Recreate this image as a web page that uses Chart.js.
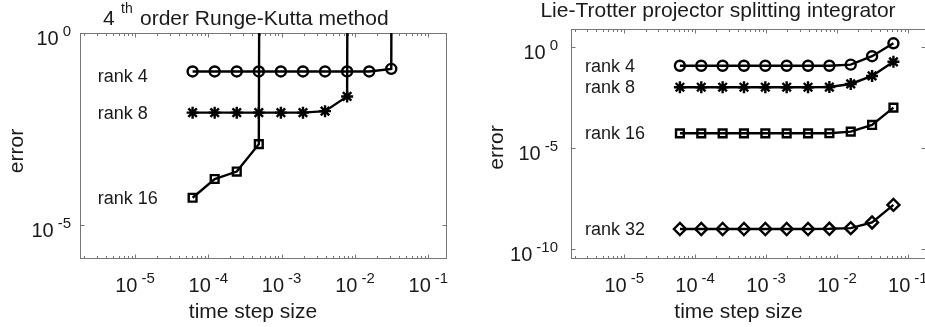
<!DOCTYPE html>
<html><head><meta charset="utf-8">
<script src="https://cdn.jsdelivr.net/npm/chart.js@4.4.1/dist/chart.umd.min.js"></script>
<style>
html,body{margin:0;padding:0;background:#fff;overflow:hidden;width:925px;height:327px;}
canvas{position:absolute;top:0;}
#c1{left:0}
#c2{left:470px}
</style></head><body>
<canvas id="c1" width="465" height="327"></canvas>
<canvas id="c2" width="465" height="327"></canvas>
<script>
// time step sizes (x)
const timeSteps = [6.1035e-5, 1.2207e-4, 2.4414e-4, 4.8828e-4, 9.7656e-4, 1.9531e-3, 3.9063e-3, 7.8125e-3, 1.5625e-2, 3.125e-2, 6.25e-2];

// 4th order Runge-Kutta errors (1e200 = blow-up / divergence)
const rk4Rank4  = [0.1, 0.1, 0.1, 0.1, 0.1, 0.1, 0.1, 0.1, 0.1, 0.117, 1e200];
const rk4Rank8  = [0.0085, 0.0085, 0.0085, 0.0085, 0.0085, 0.0085, 0.0093, 0.0224, 1e200];
const rk4Rank16 = [5.2e-5, 1.6e-4, 2.5e-4, 1.29e-3, 1e200];

// Lie-Trotter projector splitting errors
const ltRank4  = [0.115, 0.115, 0.115, 0.115, 0.115, 0.115, 0.115, 0.115, 0.13, 0.34, 1.48];
const ltRank8  = [0.01, 0.01, 0.01, 0.01, 0.01, 0.01, 0.01, 0.0102, 0.0145, 0.036, 0.18];
const ltRank16 = [5.3e-5, 5.3e-5, 5.3e-5, 5.3e-5, 5.3e-5, 5.3e-5, 5.3e-5, 5.35e-5, 6.4e-5, 1.37e-4, 9.8e-4];
const ltRank32 = [1.0e-9, 1.0e-9, 1.0e-9, 1.0e-9, 1.0e-9, 1.0e-9, 1.0e-9, 1.02e-9, 1.1e-9, 2.1e-9, 1.55e-8];

// tick labels
const xTickValues = [1e-5, 1e-4, 1e-3, 1e-2, 1e-1];
const xTickExps   = ['-5', '-4', '-3', '-2', '-1'];
const rk4YTickValues = [1, 1e-5];
const rk4YTickExps   = ['0', '-5'];
const ltYTickValues  = [1, 1e-5, 1e-10];
const ltYTickExps    = ['0', '-5', '-10'];

const seriesLabelsRK4 = ['rank 4', 'rank 8', 'rank 16'];
const seriesLabelsLT  = ['rank 4', 'rank 8', 'rank 16', 'rank 32'];

const FONT = '"Liberation Sans", Arial, sans-serif';
const TXT = '#1a1a1a';
const AX = '#767676';

function toXY(vals) { return vals.map((v, i) => ({x: timeSteps[i], y: v})); }

function ds(vals, style, r) {
  return {
    data: toXY(vals), borderColor: '#000', borderWidth: 2.4, tension: 0,
    pointStyle: style, pointRadius: r, pointHoverRadius: r, pointBorderWidth: 2.4,
    pointBorderColor: '#000', pointBackgroundColor: 'rgba(0,0,0,0)', fill: false
  };
}

function drawPow(ctx, x, y, base, exp, align, bsz, esz) {
  ctx.font = bsz + 'px ' + FONT;
  const wb = ctx.measureText(base).width;
  ctx.font = esz + 'px ' + FONT;
  const we = ctx.measureText(exp).width;
  const gap = 4;
  const total = wb + gap + we;
  let sx = align === 'center' ? x - total / 2 : (align === 'right' ? x - total : x);
  ctx.textAlign = 'left';
  ctx.textBaseline = 'alphabetic';
  ctx.fillStyle = TXT;
  ctx.font = bsz + 'px ' + FONT;
  ctx.fillText(base, sx, y);
  ctx.font = esz + 'px ' + FONT;
  ctx.fillText(exp, sx + wb + gap, y - 9);
}

function makeDeco(cfg) {
  return {
    id: 'deco_' + cfg.name,
    beforeDatasetsDraw(chart) {
      const ctx = chart.ctx;
      const xs = chart.scales.x, ys = chart.scales.y;
      const {left, top, right, bottom} = chart.chartArea;
      const L = Math.round(left) + 0.5, R = Math.round(right) - 0.5;
      const T = Math.round(top) + 0.5, B = Math.round(bottom) - 0.5;
      ctx.save();
      ctx.strokeStyle = AX; ctx.lineWidth = 1;
      ctx.strokeRect(L, T, R - L, B - T);
      ctx.beginPath();
      for (let e = -7; e <= 0; e++) {
        for (let m = 1; m <= 9; m++) {
          const v = m * Math.pow(10, e);
          if (v < xs.min || v > xs.max) continue;
          const px = Math.round(xs.getPixelForValue(v)) + 0.5;
          const len = m === 1 ? 4 : 2.5;
          ctx.moveTo(px, B); ctx.lineTo(px, B - len);
          ctx.moveTo(px, T); ctx.lineTo(px, T + len);
        }
      }
      cfg.yTicks.forEach(v => {
        const py = Math.round(ys.getPixelForValue(v)) + 0.5;
        ctx.moveTo(L, py); ctx.lineTo(L + 4, py);
        ctx.moveTo(R, py); ctx.lineTo(R - 4, py);
      });
      ctx.stroke();
      ctx.restore();
    },
    afterDraw(chart) {
      const ctx = chart.ctx;
      const xs = chart.scales.x, ys = chart.scales.y;
      ctx.save();
      xTickValues.forEach((v, i) => {
        drawPow(ctx, xs.getPixelForValue(v), 291.5, '10', xTickExps[i], 'center', 20, 15);
      });
      cfg.yTicks.forEach((v, i) => {
        drawPow(ctx, cfg.yLabelRight, ys.getPixelForValue(v) + 12, '10', cfg.yExps[i], 'right', 20, 15);
      });
      ctx.fillStyle = TXT;
      ctx.font = '18px ' + FONT;
      ctx.textAlign = 'left'; ctx.textBaseline = 'middle';
      cfg.labels.forEach((t, i) => {
        ctx.fillText(t, xs.getPixelForValue(cfg.labelX), ys.getPixelForValue(cfg.labelY[i]));
      });
      ctx.font = '21px ' + FONT;
      ctx.textAlign = 'center'; ctx.textBaseline = 'alphabetic';
      ctx.fillText('time step size', cfg.xTitleX, 318);
      ctx.save();
      ctx.translate(cfg.yTitleX, cfg.yTitleY);
      ctx.rotate(-Math.PI / 2);
      ctx.textBaseline = 'middle';
      ctx.fillText('error', 0, 0);
      ctx.restore();
      cfg.drawTitle(ctx);
      ctx.restore();
    }
  };
}

function hiddenAxis(extra) {
  return Object.assign({
    ticks: {display: false, padding: 0},
    grid: {display: false, drawTicks: false, tickLength: 0},
    border: {display: false},
    title: {display: false}
  }, extra);
}

function baseOptions(yMin, yMax, yTicks) {
  return {
    responsive: false, animation: false, devicePixelRatio: 1,
    events: [],
    layout: {padding: 0},
    plugins: {legend: {display: false}, tooltip: {enabled: false}, title: {display: false}},
    scales: {
      x: hiddenAxis({type: 'logarithmic', min: Math.pow(10, -5.75), max: Math.pow(10, -0.745),
          afterBuildTicks: s => { s.ticks = xTickValues.map(v => ({value: v})); }}),
      y: hiddenAxis({type: 'logarithmic', min: yMin, max: yMax,
          afterBuildTicks: s => { s.ticks = yTicks.map(v => ({value: v})); }})
    }
  };
}

const opt1 = baseOptions(Math.pow(10, -5.876), 1, rk4YTickValues);
opt1.layout.padding = {left: 80, top: 33, right: 18, bottom: 68};
new Chart(document.getElementById('c1'), {
  type: 'line',
  data: {datasets: [ds(rk4Rank4, 'circle', 5), ds(rk4Rank8, 'star', 6), ds(rk4Rank16, 'rect', 5.5)]},
  options: opt1,
  plugins: [makeDeco({
    name: 'rk4', yTicks: rk4YTickValues, yExps: rk4YTickExps, yLabelRight: 71,
    labels: seriesLabelsRK4, labelX: 3.1e-6, labelY: [0.07, 7.8e-3, 4.8e-5],
    xTitleX: 253, yTitleX: 17, yTitleY: 151,
    drawTitle(ctx) {
      ctx.fillStyle = TXT; ctx.textAlign = 'left'; ctx.textBaseline = 'alphabetic';
      ctx.font = '21px ' + FONT; ctx.fillText('4', 103, 25);
      ctx.font = '14px ' + FONT; ctx.fillText('th', 121, 13);
      ctx.font = '21px ' + FONT; ctx.fillText('order Runge-Kutta method', 140, 25);
    }
  })]
});

const opt2 = baseOptions(3.3e-11, 7.5, ltYTickValues);
opt2.layout.padding = {left: 101, top: 29, right: 9, bottom: 68};
new Chart(document.getElementById('c2'), {
  type: 'line',
  data: {datasets: [ds(ltRank4, 'circle', 5), ds(ltRank8, 'star', 6), ds(ltRank16, 'rect', 5.5), ds(ltRank32, 'rectRot', 6)]},
  options: opt2,
  plugins: [makeDeco({
    name: 'lt', yTicks: ltYTickValues, yExps: ltYTickExps, yLabelRight: 88,
    labels: seriesLabelsLT, labelX: 2.8e-6, labelY: [0.1, 0.009, 4.8e-5, 9e-10],
    xTitleX: 268.5, yTitleX: 27, yTitleY: 147.5,
    drawTitle(ctx) {
      ctx.fillStyle = TXT; ctx.textAlign = 'center'; ctx.textBaseline = 'alphabetic';
      ctx.font = '21px ' + FONT; ctx.fillText('Lie-Trotter projector splitting integrator', 248, 17);
    }
  })]
});
</script>
</body></html>
